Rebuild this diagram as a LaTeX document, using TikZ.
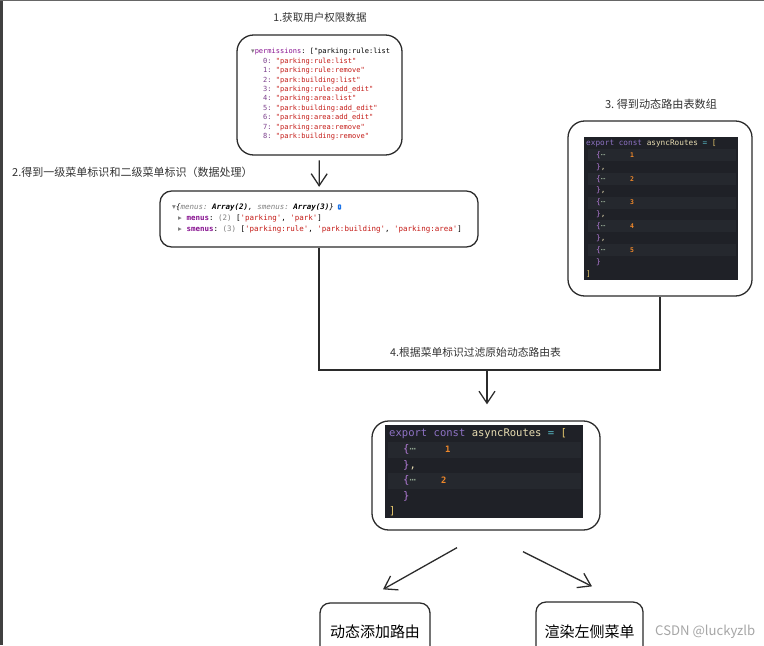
\documentclass[tikz,border=0pt]{standalone}
\usepackage{fontspec}
\setmonofont{DejaVu Sans Mono}
\newfontfamily\cjk{Noto Sans CJK SC}
\newfontfamily\sym{DejaVu Sans}
\usetikzlibrary{arrows.meta}

\definecolor{edgegray}{HTML}{2B2B2B}
\definecolor{keypurple}{HTML}{881391}
\definecolor{idxpurple}{HTML}{7B3F8C}
\definecolor{strred}{HTML}{C41A16}
\definecolor{infoblue}{HTML}{1A73E8}
\definecolor{panelbg}{HTML}{1F2127}
\definecolor{panelrow}{HTML}{25282E}
\definecolor{kwpurple}{HTML}{8E72C4}
\definecolor{idcream}{HTML}{E8DDB2}
\definecolor{opteal}{HTML}{56B6C2}
\definecolor{bryellow}{HTML}{E3C56C}
\definecolor{brpurple}{HTML}{B27BD6}
\definecolor{foldgray}{HTML}{8FA38F}
\definecolor{numorange}{HTML}{F0882A}

\begin{document}
\begin{tikzpicture}[x=0.03cm, y=-0.03cm,
    box/.style={draw=edgegray, line width=1.1pt, rounded corners=0.5cm, inner sep=0pt},
    panel/.style={fill=panelbg, inner sep=0pt},
    title/.style={font=\cjk\fontsize{9.2}{11}\selectfont, text=black!80, inner sep=0pt},
    link/.style={draw=edgegray, line width=1.1pt},
    arr/.style={link, -{Straight Barb[length=3.6mm, width=4.8mm]}},
    devcode/.style={font=\ttfamily\fontsize{6}{7}\selectfont, anchor=west, inner sep=0pt},
    vscode/.style={font=\ttfamily\fontsize{6.6}{8}\selectfont, anchor=west, inner sep=0pt, text=idcream},
    bigcode/.style={font=\ttfamily\fontsize{9}{11}\selectfont, anchor=west, inner sep=0pt, text=idcream}]

    \useasboundingbox (0,0) rectangle (764,645);
    \clip (0,0) rectangle (764,645);
    \fill[white] (0,0) rectangle (764,645);
    \fill[black!75] (0,0) rectangle (3,645);
    \draw[black!60, line width=0.6pt] (0,0) -- (764,0);

    % step titles
    \node[title, font=\cjk\fontsize{9}{11}\selectfont] (t1) at (320,17) {1.获取用户权限数据};
    \node[title, anchor=west, font=\cjk\fontsize{9.4}{11}\selectfont] (t2) at (12,172) {2.得到一级菜单标识和二级菜单标识（数据处理）};
    \node[title, font=\cjk\fontsize{9.5}{11}\selectfont] (t3) at (661,104) {3.\ 得到动态路由表数组};
    \node[title, anchor=west] (t4) at (390,352) {4.根据菜单标识过滤原始动态路由表};

    % boxes
    \node[box, minimum width=4.95cm, minimum height=3.6cm] (perm) at (319.5,95) {};
    \node[box, rounded corners=0.35cm, minimum width=9.54cm, minimum height=1.68cm] (menu) at (319,219) {};
    \node[box, minimum width=5.52cm, minimum height=5.25cm] (routes) at (660,208.5) {};
    \node[box, minimum width=6.84cm, minimum height=3.27cm] (filtered) at (486,475.5) {};
    \node[box, rounded corners=0.3cm, minimum width=3.3cm, minimum height=1.74cm,
          font=\cjk\fontsize{12.8}{14}\selectfont] (addroute) at (375,632) {动态添加路由};
    \node[box, rounded corners=0.3cm, minimum width=3.21cm, minimum height=1.8cm,
          font=\cjk\fontsize{12.8}{14}\selectfont] (sidemenu) at (589.5,632) {渲染左侧菜单};

    % permissions (console)
    \node[devcode] (perm-head) at (251,52) {{\sym\color{gray}▾}\textcolor{keypurple}{permissions}: ["parking:rule:list};
    \foreach \i/\s in {0/parking:rule:list, 1/parking:rule:remove, 2/park:building:list,
                       3/parking:rule:add\_edit, 4/parking:area:list, 5/park:building:add\_edit,
                       6/parking:area:add\_edit, 7/parking:area:remove, 8/park:building:remove}
        \node[devcode] (p\i) at (263,{61.4+9.4*\i}) {\textcolor{idxpurple}{\i:} \textcolor{strred}{"\s"}};

    % menus (console)
    \node[devcode, font=\ttfamily\fontsize{6.4}{7}\selectfont] (m0) at (172,207)
        {{\sym\color{gray}▾}\textit{\{\textcolor{gray}{menus:} \textbf{Array(2)}, \textcolor{gray}{smenus:} \textbf{Array(3)}\}}};
    \node[fill=infoblue, text=white, font=\sffamily\bfseries\fontsize{4}{4}\selectfont,
          inner sep=0.8pt, rounded corners=0.5pt, anchor=west] (info) at ([xshift=3pt]m0.east) {i};
    \node[devcode, font=\ttfamily\fontsize{6.4}{7}\selectfont] (m1) at (178,218)
        {{\sym\color{gray}▸} \textcolor{keypurple}{\textbf{menus}}: \textcolor{gray}{(2)} [\textcolor{strred}{'parking'}, \textcolor{strred}{'park'}]};
    \node[devcode, font=\ttfamily\fontsize{6.4}{7}\selectfont] (m2) at (178,229)
        {{\sym\color{gray}▸} \textcolor{keypurple}{\textbf{smenus}}: \textcolor{gray}{(3)} [\textcolor{strred}{'parking:rule'}, \textcolor{strred}{'park:building'}, \textcolor{strred}{'parking:area'}]};

    % all routes (editor)
    \node[panel, minimum width=4.62cm, minimum height=4.29cm] (routes-code) at (661,208.5) {};
    \foreach \i in {1,3,...,9}
        \fill[panelrow] (588,{137+11.9*\i}) rectangle (736,{149+11.9*\i});
    \node[vscode] (r0) at (586,143) {\textcolor{kwpurple}{export const} asyncRoutes \textcolor{opteal}{=} \textcolor{bryellow}{[}};
    \foreach \k in {1,...,5} {
        \node[vscode] (ro\k) at (596,{143+11.9*(2*\k-1)}) {\textcolor{brpurple}{\{}\textcolor{foldgray}{⋯}};
        \node[vscode, text=numorange, font=\ttfamily\bfseries\fontsize{5.5}{6}\selectfont] (rn\k) at (630,{143+11.9*(2*\k-1)}) {\k};
        \node[vscode] (rc\k) at (596,{143+11.9*(2*\k)}) {\textcolor{brpurple}{\}}\ifnum\k<5 ,\fi};
    }
    \node[vscode, text=bryellow] (r11) at (586,274) {]};

    % filtered routes (editor)
    \node[panel, minimum width=5.94cm, minimum height=2.79cm] (filtered-code) at (484,471.5) {};
    \foreach \i in {1,3}
        \fill[panelrow] (388,{426+15.5*\i}) rectangle (581,{442+15.5*\i});
    \node[bigcode] (f0) at (389,434) {\textcolor{kwpurple}{export const} asyncRoutes \textcolor{opteal}{=} \textcolor{bryellow}{[}};
    \foreach \k/\nx in {1/445, 2/441} {
        \node[bigcode] (fo\k) at (403,{434+15.5*(2*\k-1)}) {\textcolor{brpurple}{\{}\textcolor{foldgray}{⋯}};
        \node[bigcode, text=numorange, font=\ttfamily\bfseries\fontsize{7.5}{8}\selectfont] (fn\k) at (\nx,{434+15.5*(2*\k-1)}) {\k};
        \node[bigcode] (fc\k) at (403,{434+15.5*(2*\k)}) {\textcolor{brpurple}{\}}\ifnum\k<2 ,\fi};
    }
    \node[bigcode, text=bryellow] (f5) at (389,511.5) {]};

    % connectors
    \coordinate (join) at (487,370);
    \draw[arr, shorten <=4pt, shorten >=3pt] (perm) -- (menu);
    \draw[link] (menu.south) |- (join) -| (routes.south);
    \draw[arr, shorten >=0.48cm] (join) -- (join |- filtered.north);
    \draw[arr] ([shift={(-29,17)}]filtered.south) -- ([shift={(8,-13)}]addroute.north);
    \draw[arr] ([shift={(37,21)}]filtered.south) -- ([shift={(2.5,-15)}]sidemenu.north);

    \node[font=\cjk\fontsize{11.2}{13}\selectfont, text=black!35, anchor=west, inner sep=0pt] (mark) at (655,632) {CSDN @luckyzlb};
\end{tikzpicture}
\end{document}
